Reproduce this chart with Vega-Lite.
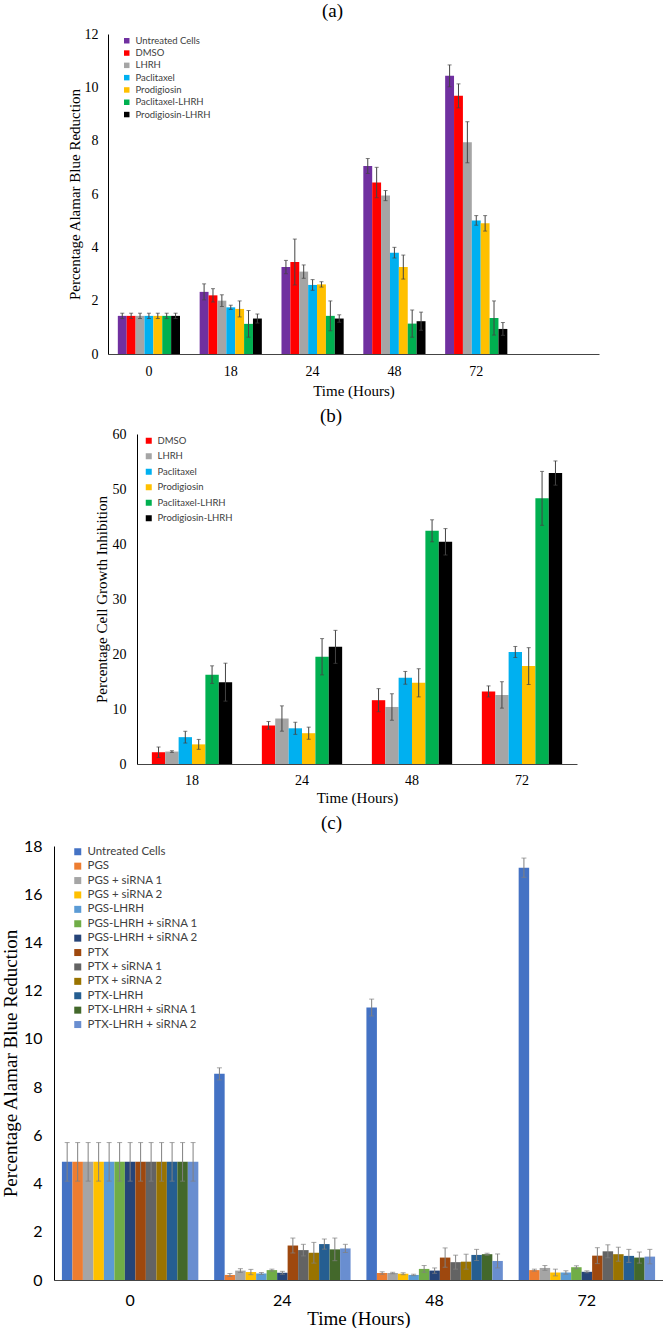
{
  "$schema": "https://vega.github.io/schema/vega-lite/v6.json",
  "padding": {"left": 0, "top": 2, "right": 0, "bottom": 0},
  "background": "white",
  "config": {
    "view": {"stroke": null},
    "axis": {"domainWidth": 1, "grid": false, "ticks": false, "tickSize": 0, "labelColor": "#000", "titleColor": "#000", "titleFontWeight": "normal"},
    "title": {"font": "Liberation Serif", "fontWeight": "normal", "color": "#000"},
    "legend": {"padding": 0, "title": null, "symbolType": "square", "symbolStrokeWidth": 0, "labelColor": "#404040", "labelFont": "Lato"}
  },
  "datasets": {
    "a": [
      {"t": "0", "g": "Untreated Cells", "v": 1.43, "lo": 1.33, "hi": 1.53},
      {"t": "0", "g": "DMSO", "v": 1.43, "lo": 1.33, "hi": 1.53},
      {"t": "0", "g": "LHRH", "v": 1.43, "lo": 1.33, "hi": 1.53},
      {"t": "0", "g": "Paclitaxel", "v": 1.43, "lo": 1.33, "hi": 1.53},
      {"t": "0", "g": "Prodigiosin", "v": 1.43, "lo": 1.33, "hi": 1.53},
      {"t": "0", "g": "Paclitaxel-LHRH", "v": 1.43, "lo": 1.33, "hi": 1.53},
      {"t": "0", "g": "Prodigiosin-LHRH", "v": 1.43, "lo": 1.33, "hi": 1.53},
      {"t": "18", "g": "Untreated Cells", "v": 2.33, "lo": 2.03, "hi": 2.63},
      {"t": "18", "g": "DMSO", "v": 2.2, "lo": 1.95, "hi": 2.45},
      {"t": "18", "g": "LHRH", "v": 2.0, "lo": 1.78, "hi": 2.22},
      {"t": "18", "g": "Paclitaxel", "v": 1.75, "lo": 1.67, "hi": 1.83},
      {"t": "18", "g": "Prodigiosin", "v": 1.69, "lo": 1.39, "hi": 1.99},
      {"t": "18", "g": "Paclitaxel-LHRH", "v": 1.13, "lo": 0.63, "hi": 1.63},
      {"t": "18", "g": "Prodigiosin-LHRH", "v": 1.33, "lo": 1.16, "hi": 1.5},
      {"t": "24", "g": "Untreated Cells", "v": 3.26, "lo": 3.01, "hi": 3.51},
      {"t": "24", "g": "DMSO", "v": 3.45, "lo": 2.59, "hi": 4.31},
      {"t": "24", "g": "LHRH", "v": 3.09, "lo": 2.84, "hi": 3.34},
      {"t": "24", "g": "Paclitaxel", "v": 2.59, "lo": 2.39, "hi": 2.79},
      {"t": "24", "g": "Prodigiosin", "v": 2.61, "lo": 2.51, "hi": 2.71},
      {"t": "24", "g": "Paclitaxel-LHRH", "v": 1.43, "lo": 0.87, "hi": 1.99},
      {"t": "24", "g": "Prodigiosin-LHRH", "v": 1.33, "lo": 1.19, "hi": 1.47},
      {"t": "48", "g": "Untreated Cells", "v": 7.05, "lo": 6.77, "hi": 7.33},
      {"t": "48", "g": "DMSO", "v": 6.43, "lo": 5.86, "hi": 7.0},
      {"t": "48", "g": "LHRH", "v": 5.94, "lo": 5.75, "hi": 6.13},
      {"t": "48", "g": "Paclitaxel", "v": 3.8, "lo": 3.6, "hi": 4.0},
      {"t": "48", "g": "Prodigiosin", "v": 3.26, "lo": 2.81, "hi": 3.71},
      {"t": "48", "g": "Paclitaxel-LHRH", "v": 1.14, "lo": 0.63, "hi": 1.65},
      {"t": "48", "g": "Prodigiosin-LHRH", "v": 1.23, "lo": 0.89, "hi": 1.57},
      {"t": "72", "g": "Untreated Cells", "v": 10.43, "lo": 10.02, "hi": 10.84},
      {"t": "72", "g": "DMSO", "v": 9.68, "lo": 9.23, "hi": 10.13},
      {"t": "72", "g": "LHRH", "v": 7.94, "lo": 7.17, "hi": 8.71},
      {"t": "72", "g": "Paclitaxel", "v": 5.01, "lo": 4.83, "hi": 5.19},
      {"t": "72", "g": "Prodigiosin", "v": 4.9, "lo": 4.61, "hi": 5.19},
      {"t": "72", "g": "Paclitaxel-LHRH", "v": 1.35, "lo": 0.71, "hi": 1.99},
      {"t": "72", "g": "Prodigiosin-LHRH", "v": 0.94, "lo": 0.7, "hi": 1.18}
    ],
    "b": [
      {"t": "18", "g": "DMSO", "v": 2.14, "lo": 1.19, "hi": 3.09},
      {"t": "18", "g": "LHRH", "v": 2.26, "lo": 2.11, "hi": 2.41},
      {"t": "18", "g": "Paclitaxel", "v": 4.88, "lo": 3.81, "hi": 5.95},
      {"t": "18", "g": "Prodigiosin", "v": 3.57, "lo": 2.67, "hi": 4.47},
      {"t": "18", "g": "Paclitaxel-LHRH", "v": 16.25, "lo": 14.65, "hi": 17.85},
      {"t": "18", "g": "Prodigiosin-LHRH", "v": 14.88, "lo": 11.43, "hi": 18.33},
      {"t": "24", "g": "DMSO", "v": 7.02, "lo": 6.32, "hi": 7.72},
      {"t": "24", "g": "LHRH", "v": 8.27, "lo": 5.97, "hi": 10.57},
      {"t": "24", "g": "Paclitaxel", "v": 6.49, "lo": 5.39, "hi": 7.59},
      {"t": "24", "g": "Prodigiosin", "v": 5.6, "lo": 4.5, "hi": 6.7},
      {"t": "24", "g": "Paclitaxel-LHRH", "v": 19.5, "lo": 16.2, "hi": 22.8},
      {"t": "24", "g": "Prodigiosin-LHRH", "v": 21.3, "lo": 18.3, "hi": 24.3},
      {"t": "48", "g": "DMSO", "v": 11.6, "lo": 9.5, "hi": 13.7},
      {"t": "48", "g": "LHRH", "v": 10.37, "lo": 7.97, "hi": 12.77},
      {"t": "48", "g": "Paclitaxel", "v": 15.67, "lo": 14.51, "hi": 16.83},
      {"t": "48", "g": "Prodigiosin", "v": 14.76, "lo": 12.2, "hi": 17.32},
      {"t": "48", "g": "Paclitaxel-LHRH", "v": 42.4, "lo": 40.4, "hi": 44.4},
      {"t": "48", "g": "Prodigiosin-LHRH", "v": 40.4, "lo": 38.0, "hi": 42.8},
      {"t": "72", "g": "DMSO", "v": 13.2, "lo": 12.2, "hi": 14.2},
      {"t": "72", "g": "LHRH", "v": 12.56, "lo": 10.16, "hi": 14.96},
      {"t": "72", "g": "Paclitaxel", "v": 20.37, "lo": 19.37, "hi": 21.37},
      {"t": "72", "g": "Prodigiosin", "v": 17.8, "lo": 14.45, "hi": 21.15},
      {"t": "72", "g": "Paclitaxel-LHRH", "v": 48.3, "lo": 43.4, "hi": 53.2},
      {"t": "72", "g": "Prodigiosin-LHRH", "v": 52.9, "lo": 50.7, "hi": 55.1}
    ],
    "c": [
      {"t": "0", "g": "Untreated Cells", "v": 4.9, "lo": 4.1, "hi": 5.7},
      {"t": "0", "g": "PGS", "v": 4.9, "lo": 4.1, "hi": 5.7},
      {"t": "0", "g": "PGS + siRNA 1", "v": 4.9, "lo": 4.1, "hi": 5.7},
      {"t": "0", "g": "PGS + siRNA 2", "v": 4.9, "lo": 4.1, "hi": 5.7},
      {"t": "0", "g": "PGS-LHRH", "v": 4.9, "lo": 4.1, "hi": 5.7},
      {"t": "0", "g": "PGS-LHRH + siRNA 1", "v": 4.9, "lo": 4.1, "hi": 5.7},
      {"t": "0", "g": "PGS-LHRH + siRNA 2", "v": 4.9, "lo": 4.1, "hi": 5.7},
      {"t": "0", "g": "PTX", "v": 4.9, "lo": 4.1, "hi": 5.7},
      {"t": "0", "g": "PTX + siRNA 1", "v": 4.9, "lo": 4.1, "hi": 5.7},
      {"t": "0", "g": "PTX + siRNA 2", "v": 4.9, "lo": 4.1, "hi": 5.7},
      {"t": "0", "g": "PTX-LHRH", "v": 4.9, "lo": 4.1, "hi": 5.7},
      {"t": "0", "g": "PTX-LHRH + siRNA 1", "v": 4.9, "lo": 4.1, "hi": 5.7},
      {"t": "0", "g": "PTX-LHRH + siRNA 2", "v": 4.9, "lo": 4.1, "hi": 5.7},
      {"t": "24", "g": "Untreated Cells", "v": 8.55, "lo": 8.3, "hi": 8.8},
      {"t": "24", "g": "PGS", "v": 0.21, "lo": 0.15, "hi": 0.27},
      {"t": "24", "g": "PGS + siRNA 1", "v": 0.39, "lo": 0.31, "hi": 0.47},
      {"t": "24", "g": "PGS + siRNA 2", "v": 0.33, "lo": 0.22, "hi": 0.44},
      {"t": "24", "g": "PGS-LHRH", "v": 0.27, "lo": 0.23, "hi": 0.31},
      {"t": "24", "g": "PGS-LHRH + siRNA 1", "v": 0.41, "lo": 0.37, "hi": 0.45},
      {"t": "24", "g": "PGS-LHRH + siRNA 2", "v": 0.3, "lo": 0.24, "hi": 0.36},
      {"t": "24", "g": "PTX", "v": 1.43, "lo": 1.12, "hi": 1.74},
      {"t": "24", "g": "PTX + siRNA 1", "v": 1.24, "lo": 1.0, "hi": 1.48},
      {"t": "24", "g": "PTX + siRNA 2", "v": 1.13, "lo": 0.7, "hi": 1.56},
      {"t": "24", "g": "PTX-LHRH", "v": 1.49, "lo": 1.28, "hi": 1.7},
      {"t": "24", "g": "PTX-LHRH + siRNA 1", "v": 1.27, "lo": 0.8, "hi": 1.74},
      {"t": "24", "g": "PTX-LHRH + siRNA 2", "v": 1.31, "lo": 1.14, "hi": 1.48},
      {"t": "48", "g": "Untreated Cells", "v": 11.3, "lo": 10.95, "hi": 11.65},
      {"t": "48", "g": "PGS", "v": 0.29, "lo": 0.24, "hi": 0.34},
      {"t": "48", "g": "PGS + siRNA 1", "v": 0.29, "lo": 0.26, "hi": 0.32},
      {"t": "48", "g": "PGS + siRNA 2", "v": 0.26, "lo": 0.22, "hi": 0.3},
      {"t": "48", "g": "PGS-LHRH", "v": 0.21, "lo": 0.18, "hi": 0.24},
      {"t": "48", "g": "PGS-LHRH + siRNA 1", "v": 0.46, "lo": 0.32, "hi": 0.6},
      {"t": "48", "g": "PGS-LHRH + siRNA 2", "v": 0.39, "lo": 0.28, "hi": 0.5},
      {"t": "48", "g": "PTX", "v": 0.93, "lo": 0.53, "hi": 1.33},
      {"t": "48", "g": "PTX + siRNA 1", "v": 0.74, "lo": 0.45, "hi": 1.03},
      {"t": "48", "g": "PTX + siRNA 2", "v": 0.76, "lo": 0.45, "hi": 1.07},
      {"t": "48", "g": "PTX-LHRH", "v": 1.04, "lo": 0.81, "hi": 1.27},
      {"t": "48", "g": "PTX-LHRH + siRNA 1", "v": 1.07, "lo": 1.03, "hi": 1.11},
      {"t": "48", "g": "PTX-LHRH + siRNA 2", "v": 0.79, "lo": 0.5, "hi": 1.08},
      {"t": "72", "g": "Untreated Cells", "v": 17.1, "lo": 16.7, "hi": 17.5},
      {"t": "72", "g": "PGS", "v": 0.41, "lo": 0.37, "hi": 0.45},
      {"t": "72", "g": "PGS + siRNA 1", "v": 0.5, "lo": 0.4, "hi": 0.6},
      {"t": "72", "g": "PGS + siRNA 2", "v": 0.31, "lo": 0.17, "hi": 0.45},
      {"t": "72", "g": "PGS-LHRH", "v": 0.31, "lo": 0.24, "hi": 0.38},
      {"t": "72", "g": "PGS-LHRH + siRNA 1", "v": 0.53, "lo": 0.47, "hi": 0.59},
      {"t": "72", "g": "PGS-LHRH + siRNA 2", "v": 0.34, "lo": 0.3, "hi": 0.38},
      {"t": "72", "g": "PTX", "v": 1.01, "lo": 0.68, "hi": 1.34},
      {"t": "72", "g": "PTX + siRNA 1", "v": 1.19, "lo": 0.92, "hi": 1.46},
      {"t": "72", "g": "PTX + siRNA 2", "v": 1.07, "lo": 0.78, "hi": 1.36},
      {"t": "72", "g": "PTX-LHRH", "v": 1.0, "lo": 0.73, "hi": 1.27},
      {"t": "72", "g": "PTX-LHRH + siRNA 1", "v": 0.93, "lo": 0.7, "hi": 1.16},
      {"t": "72", "g": "PTX-LHRH + siRNA 2", "v": 0.97, "lo": 0.67, "hi": 1.27}
    ]
  },
  "vconcat": [
    {
      "spacing": 0,
      "hconcat": [
        {"width": 67, "height": 1, "data": {"values": []}, "mark": "text", "encoding": {}},
        {
          "width": 491, "height": 320,
          "title": {"text": "(a)", "fontSize": 19, "offset": 6, "dx": -21, "anchor": "middle"},
          "data": {"name": "a"},
          "encoding": {
            "x": {"field": "t", "type": "nominal", "sort": null,
              "scale": {"type": "band", "domain": ["0", "18", "24", "48", "72", ""], "paddingInner": 0.24, "paddingOuter": 0.12},
              "axis": {"title": "Time (Hours)", "titleFont": "Liberation Serif", "titleFontSize": 15, "titlePadding": 5, "labelAngle": 0, "labelFont": "Liberation Serif", "labelFontSize": 14, "labelPadding": 10, "domainColor": "#444"}},
            "xOffset": {"field": "g", "type": "nominal", "scale": {"type": "band", "domain": ["Untreated Cells", "DMSO", "LHRH", "Paclitaxel", "Prodigiosin", "Paclitaxel-LHRH", "Prodigiosin-LHRH"], "paddingInner": 0, "paddingOuter": 0}}
          },
          "layer": [
            {"mark": {"type": "bar"},
             "encoding": {
               "y": {"field": "v", "type": "quantitative",
                 "scale": {"domain": [0, 12], "nice": false},
                 "axis": {"title": "Percentage Alamar Blue Reduction", "titleFont": "Liberation Serif", "titleFontSize": 15, "titlePadding": 2, "labelFont": "Liberation Serif", "labelFontSize": 14, "labelPadding": 10, "domainColor": "#000", "values": [0, 2, 4, 6, 8, 10, 12]}},
               "color": {"field": "g", "type": "nominal",
               "scale": {"domain": ["Untreated Cells", "DMSO", "LHRH", "Paclitaxel", "Prodigiosin", "Paclitaxel-LHRH", "Prodigiosin-LHRH"], "range": ["#7030A0", "#FF0000", "#A5A5A5", "#00B0F0", "#FFC000", "#00B050", "#000000"]},
               "legend": {"orient": "none", "legendX": 122, "legendY": 2, "symbolSize": 30, "labelFontSize": 9.5, "rowPadding": 1.3}}}},
            {"mark": {"type": "rule", "color": "#444", "strokeWidth": 1},
             "encoding": {"y": {"field": "lo", "type": "quantitative", "scale": {"domain": [0, 12], "nice": false}}, "y2": {"field": "hi"}}},
            {"mark": {"type": "tick", "color": "#444", "size": 4, "thickness": 1},
             "encoding": {"y": {"field": "hi", "type": "quantitative", "scale": {"domain": [0, 12], "nice": false}}}},
            {"mark": {"type": "tick", "color": "#444", "size": 4, "thickness": 1},
             "encoding": {"y": {"field": "lo", "type": "quantitative", "scale": {"domain": [0, 12], "nice": false}}}}
          ]
        }
      ]
    },
    {
      "spacing": 0,
      "hconcat": [
        {"width": 94, "height": 1, "data": {"values": []}, "mark": "text", "encoding": {}},
        {
          "width": 440, "height": 330,
          "title": {"text": "(b)", "fontSize": 19, "offset": 1, "dx": -26, "anchor": "middle"},
          "data": {"name": "b"},
          "encoding": {
            "x": {"field": "t", "type": "nominal", "sort": null,
              "scale": {"type": "band", "domain": ["18", "24", "48", "72"], "paddingInner": 0.27, "paddingOuter": 0.135},
              "axis": {"title": "Time (Hours)", "titleFont": "Liberation Serif", "titleFontSize": 15, "titlePadding": 3, "labelAngle": 0, "labelFont": "Liberation Serif", "labelFontSize": 14, "labelPadding": 9, "domainColor": "#444"}},
            "xOffset": {"field": "g", "type": "nominal", "scale": {"type": "band", "domain": ["DMSO", "LHRH", "Paclitaxel", "Prodigiosin", "Paclitaxel-LHRH", "Prodigiosin-LHRH"], "paddingInner": 0, "paddingOuter": 0}}
          },
          "layer": [
            {"mark": {"type": "bar"},
             "encoding": {
               "y": {"field": "v", "type": "quantitative",
                 "scale": {"domain": [0, 60], "nice": false},
                 "axis": {"title": "Percentage Cell Growth Inhibition", "titleFont": "Liberation Serif", "titleFontSize": 15, "titlePadding": 3, "labelFont": "Liberation Serif", "labelFontSize": 14, "labelPadding": 11, "domainColor": "#000", "values": [0, 10, 20, 30, 40, 50, 60]}},
               "color": {"field": "g", "type": "nominal",
               "scale": {"domain": ["DMSO", "LHRH", "Paclitaxel", "Prodigiosin", "Paclitaxel-LHRH", "Prodigiosin-LHRH"], "range": ["#FF0000", "#A5A5A5", "#00B0F0", "#FFC000", "#00B050", "#000000"]},
               "legend": {"orient": "none", "legendX": 144, "legendY": 2, "symbolSize": 36, "labelFontSize": 9.5, "rowPadding": 4.5}}}},
            {"mark": {"type": "rule", "color": "#444", "strokeWidth": 1},
             "encoding": {"y": {"field": "lo", "type": "quantitative", "scale": {"domain": [0, 60], "nice": false}}, "y2": {"field": "hi"}}},
            {"mark": {"type": "tick", "color": "#444", "size": 4, "thickness": 1},
             "encoding": {"y": {"field": "hi", "type": "quantitative", "scale": {"domain": [0, 60], "nice": false}}}},
            {"mark": {"type": "tick", "color": "#444", "size": 4, "thickness": 1},
             "encoding": {"y": {"field": "lo", "type": "quantitative", "scale": {"domain": [0, 60], "nice": false}}}}
          ]
        }
      ]
    },
    {
      "spacing": 0,
      "hconcat": [
        {"width": 1, "height": 1, "data": {"values": []}, "mark": "text", "encoding": {}},
        {
          "width": 609, "height": 434,
          "title": {"text": "(c)", "fontSize": 19, "offset": 5, "dx": -27, "anchor": "middle"},
          "data": {"name": "c"},
          "encoding": {
            "x": {"field": "t", "type": "nominal", "sort": null,
              "scale": {"type": "band", "domain": ["0", "24", "48", "72"], "paddingInner": 0.104, "paddingOuter": 0.052},
              "axis": {"title": "Time (Hours)", "titleFont": "Liberation Serif", "titleFontSize": 19, "titlePadding": 1, "labelAngle": 0, "labelFont": "Lato", "labelFontSize": 16, "labelPadding": 12, "domainColor": "#444"}},
            "xOffset": {"field": "g", "type": "nominal", "scale": {"type": "band", "domain": ["Untreated Cells", "PGS", "PGS + siRNA 1", "PGS + siRNA 2", "PGS-LHRH", "PGS-LHRH + siRNA 1", "PGS-LHRH + siRNA 2", "PTX", "PTX + siRNA 1", "PTX + siRNA 2", "PTX-LHRH", "PTX-LHRH + siRNA 1", "PTX-LHRH + siRNA 2"], "paddingInner": 0, "paddingOuter": 0}}
          },
          "layer": [
            {"mark": {"type": "bar"},
             "encoding": {
               "y": {"field": "v", "type": "quantitative",
                 "scale": {"domain": [0, 18], "nice": false},
                 "axis": {"title": "Percentage Alamar Blue Reduction", "titleFont": "Liberation Serif", "titleFontSize": 19, "titlePadding": 3, "labelFont": "Lato", "labelFontSize": 16, "labelPadding": 12, "domainColor": "#000", "values": [0, 2, 4, 6, 8, 10, 12, 14, 16, 18]}},
               "color": {"field": "g", "type": "nominal",
               "scale": {"domain": ["Untreated Cells", "PGS", "PGS + siRNA 1", "PGS + siRNA 2", "PGS-LHRH", "PGS-LHRH + siRNA 1", "PGS-LHRH + siRNA 2", "PTX", "PTX + siRNA 1", "PTX + siRNA 2", "PTX-LHRH", "PTX-LHRH + siRNA 1", "PTX-LHRH + siRNA 2"], "range": ["#4472C4", "#ED7D31", "#A5A5A5", "#FFC000", "#5B9BD5", "#70AD47", "#264478", "#9E480E", "#636363", "#997300", "#255E91", "#43682B", "#698ED0"]},
               "legend": {"orient": "none", "legendX": 72, "legendY": 0, "symbolSize": 49, "labelFontSize": 11.5, "rowPadding": 1.4}}}},
            {"mark": {"type": "rule", "color": "#808080", "strokeWidth": 1},
             "encoding": {"y": {"field": "lo", "type": "quantitative", "scale": {"domain": [0, 18], "nice": false}}, "y2": {"field": "hi"}}},
            {"mark": {"type": "tick", "color": "#808080", "size": 5, "thickness": 1},
             "encoding": {"y": {"field": "hi", "type": "quantitative", "scale": {"domain": [0, 18], "nice": false}}}},
            {"mark": {"type": "tick", "color": "#808080", "size": 5, "thickness": 1},
             "encoding": {"y": {"field": "lo", "type": "quantitative", "scale": {"domain": [0, 18], "nice": false}}}}
          ]
        }
      ]
    }
  ],
  "spacing": 9,
  "resolve": {"scale": {"color": "independent", "xOffset": "independent", "x": "independent", "y": "independent"}}
}
